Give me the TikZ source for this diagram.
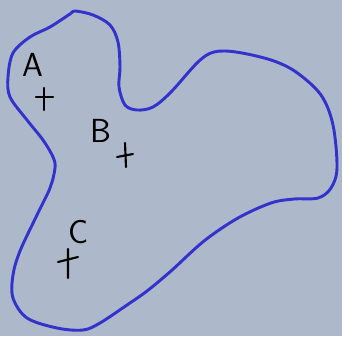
\documentclass[tikz,border=0pt]{standalone}
\definecolor{bgblue}{RGB}{173, 184, 203}
\definecolor{lineblue}{RGB}{51, 51, 204}
\usepackage{tikz}
\usetikzlibrary{positioning}

\begin{document}
\begin{tikzpicture}[
            x=0.75pt, y=-0.75pt,
            region/.style={draw=lineblue, line width=2.2pt, line join=round},
            lbl/.style={font=\fontsize{25}{25}\selectfont\sffamily, inner sep=0pt},
            cross/.style={draw=black, line width=1.6pt, line cap=round}
          ]
          \fill[bgblue] (0,0) rectangle (342,336);
          \useasboundingbox (0,0) rectangle (342,336);
          % the region
          \draw[region] plot[smooth cycle, tension=0.55] coordinates {
            (75,11) (93,15) (110,25) (118,42) (120,67) (119,87) (125,105)
            (137,110) (153,107) (171,92) (198,62) (214,52) (236,52) (271,60)
            (296,72) (321,95) (333,125) (337,168) (331,188) (318,198) (294,199)
            (271,203) (238,218) (204,241) (171,271) (147,291) (127,305) (100,323)
            (83,330) (57,328) (27,318) (13,298) (13,275) (20,251) (37,215)
            (50,188) (55,168) (53,157) (43,140) (27,120) (10,97) (8,77) (13,53)
            (30,37) (50,27) (70,14)};
          % points
          \node[lbl] (a) at (33,65)  {A};
          \node[lbl] (b) at (101,131) {B};
          \node[lbl] (c) at (79,232) {C};
          \draw[cross] (44,88) -- (44,110) (36,97) -- (53,97);
          \draw[cross] (125,143) -- (126,167) (117,157) -- (133,154);
          \draw[cross] (68,249) -- (68,278) (58,262) -- (78,257);
        \end{tikzpicture}
\end{document}
